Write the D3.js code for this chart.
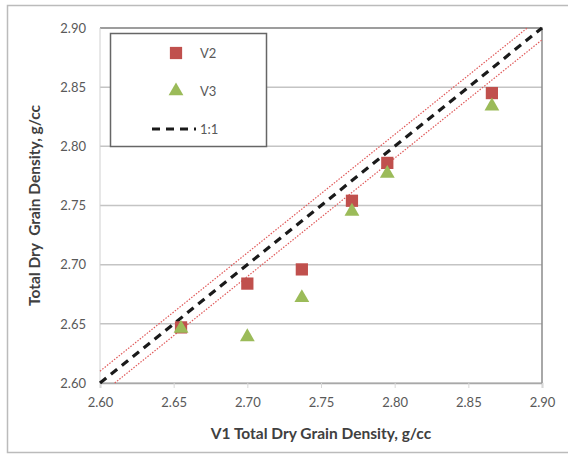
<!DOCTYPE html>
<html>
<head>
<meta charset="utf-8">
<title>Grain density V1 vs V2/V3</title>
<script src="https://cdn.jsdelivr.net/npm/d3@7/dist/d3.min.js"></script>
<style>
  body { margin: 0; background: #fff; }
  text { font-family: Lato, "Open Sans", sans-serif; }
</style>
</head>
<body>
<script>
// data
var v1 = [2.655, 2.700, 2.737, 2.771, 2.795, 2.866];
var v2 = [2.647, 2.684, 2.696, 2.754, 2.786, 2.845];
var v3 = [2.646, 2.639, 2.672, 2.745, 2.777, 2.834];
var ticks = [2.60, 2.65, 2.70, 2.75, 2.80, 2.85, 2.90];
var band = 0.01; // dotted lines either side of 1:1

var width = 568, height = 455;
var pLeft = 100, pRight = 542, pTop = 28, pBottom = 383;

var svg = d3.select("body").append("svg")
  .attr("width", width).attr("height", height);

// outer chart frame
svg.append("rect")
  .attr("x", 7.5).attr("y", 5.5).attr("width", 580).attr("height", 447)
  .attr("fill", "#fff").attr("stroke", "#bbb").attr("stroke-width", 1.5);

var x = d3.scaleLinear().domain([2.60, 2.90]).range([pLeft, pRight]);
var y = d3.scaleLinear().domain([2.60, 2.90]).range([pBottom, pTop]);

// horizontal gridlines
svg.append("g").selectAll("line").data(ticks).join("line")
  .attr("x1", pLeft).attr("x2", pRight)
  .attr("y1", d => y(d)).attr("y2", d => y(d))
  .attr("stroke", "#c4c4c4").attr("stroke-width", 1.5);

// plot border right / top
svg.append("path")
  .attr("d", "M" + pLeft + "," + y(2.9) + "H" + pRight + "V" + pBottom)
  .attr("fill", "none").attr("stroke", "#8c8c8c").attr("stroke-width", 1.5);
svg.append("line")
  .attr("x1", pLeft).attr("x2", pLeft).attr("y1", pTop).attr("y2", pBottom)
  .attr("stroke", "#d0d0d0").attr("stroke-width", 1);

// axes
var xAxis = svg.append("g").attr("transform", "translate(0," + pBottom + ")")
  .call(d3.axisBottom(x).tickValues(ticks).tickFormat(d3.format(".2f")).tickSize(5).tickPadding(10));
var yAxis = svg.append("g").attr("transform", "translate(" + pLeft + ",0)")
  .call(d3.axisLeft(y).tickValues(ticks).tickFormat(d3.format(".2f")).tickSize(0).tickPadding(14));
[xAxis, yAxis].forEach(function(a) {
  a.select(".domain").attr("stroke", "#a8a8a8").attr("stroke-width", 1.5);
  a.selectAll(".tick line").attr("stroke", "#d8d8d8");
  a.selectAll("text").attr("fill", "#595959").style("font-size", "13px")
    .style("font-family", "Lato, sans-serif");
});
yAxis.select(".domain").remove();

// 1:1 line and +/- band
var line = d3.line().x(d => x(d[0])).y(d => y(d[1]));
svg.append("path").datum([[2.60, 2.60 + band], [2.90 - band, 2.90]])
  .attr("d", line).attr("fill", "none").attr("stroke", "#e05a5a")
  .attr("stroke-width", 1.2).attr("stroke-dasharray", "1.5,1.5");
svg.append("path").datum([[2.60 + band, 2.60], [2.90, 2.90 - band]])
  .attr("d", line).attr("fill", "none").attr("stroke", "#e05a5a")
  .attr("stroke-width", 1.2).attr("stroke-dasharray", "1.5,1.5");
svg.append("path").datum([[2.60, 2.60], [2.90, 2.90]])
  .attr("d", line).attr("fill", "none").attr("stroke", "#1a1a1a")
  .attr("stroke-width", 3.2).attr("stroke-dasharray", "8,6");

var sq = d3.symbol().type(d3.symbolSquare).size(150);
var tri = d3.symbol().type(d3.symbolTriangle).size(95);

// V2 squares, V3 triangles
svg.append("g").selectAll("path").data(v1).join("path")
  .attr("d", sq).attr("fill", "#c0504d")
  .attr("transform", (d, i) => "translate(" + x(d) + "," + y(v2[i]) + ")");
svg.append("g").selectAll("path").data(v1).join("path")
  .attr("d", tri).attr("fill", "#9bbb59")
  .attr("transform", (d, i) => "translate(" + x(d) + "," + y(v3[i]) + ")");

// axis titles
svg.append("text").attr("x", (pLeft + pRight) / 2).attr("y", 439)
  .attr("text-anchor", "middle").attr("font-weight", "bold")
  .attr("font-size", 15.5).attr("fill", "#404040")
  .text("V1 Total Dry Grain Density, g/cc");
svg.append("text")
  .attr("transform", "translate(40," + ((pTop + pBottom) / 2) + ") rotate(-90)")
  .attr("text-anchor", "middle").attr("font-weight", "bold")
  .attr("font-size", 15.5).attr("fill", "#404040")
  .style("white-space", "pre")
  .text("Total Dry  Grain Density, g/cc");

// legend
var lg = svg.append("g");
lg.append("rect").attr("x", 110.5).attr("y", 33.5).attr("width", 156).attr("height", 113)
  .attr("fill", "#fff").attr("stroke", "#666").attr("stroke-width", 1.5);
lg.append("path").attr("d", sq).attr("fill", "#c0504d").attr("transform", "translate(176,53)");
lg.append("path").attr("d", tri).attr("fill", "#9bbb59").attr("transform", "translate(176,91)");
lg.append("line").attr("x1", 152).attr("x2", 196).attr("y1", 129).attr("y2", 129)
  .attr("stroke", "#1a1a1a").attr("stroke-width", 3.2).attr("stroke-dasharray", "8,6");
var lgText = [["V2", 53], ["V3", 91], ["1:1", 129]];
lg.selectAll("text.l").data(lgText).join("text").attr("class", "l")
  .attr("x", 200).attr("y", d => d[1]).attr("dy", "0.35em")
  .attr("font-size", 13).attr("fill", "#595959").text(d => d[0]);
</script>
</body>
</html>
